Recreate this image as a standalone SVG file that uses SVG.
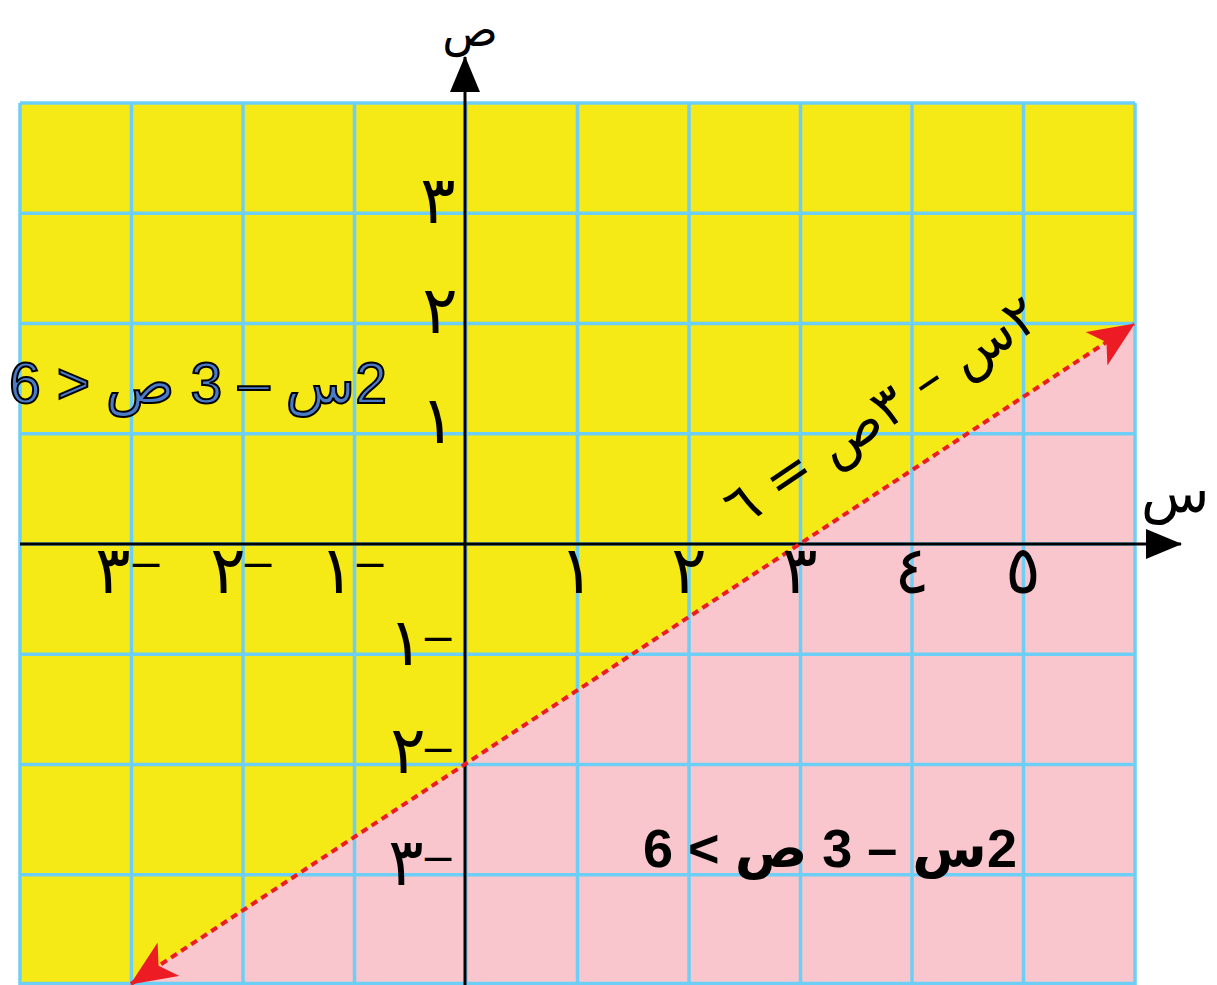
<svg xmlns="http://www.w3.org/2000/svg" width="1217" height="985" viewBox="0 0 1217 985">
<style>
.grid line{stroke:#6DCFF6;stroke-width:3.5}
.ar{font-family:"DejaVu Sans",sans-serif;fill:#000}
.ax{font-family:"DejaVu Sans",sans-serif;font-size:66px;fill:#000;text-anchor:middle}
.ax .d{font-family:"Liberation Sans",sans-serif;font-size:48px}
.axl{stroke:#000;stroke-width:3;fill:none}
</style>
<defs>
<marker id="redhead" viewBox="0 0 46 40" refX="45" refY="20" markerWidth="46" markerHeight="40" markerUnits="userSpaceOnUse" orient="auto-start-reverse">
<path d="M46,20 L0,0 L12,20 L0,40 Z" fill="#ED1C24"/>
</marker>
<marker id="blackhead" viewBox="0 0 36 30" refX="35" refY="15" markerWidth="36" markerHeight="30" markerUnits="userSpaceOnUse" orient="auto">
<path d="M36,15 L0,0 L0,30 Z" fill="#000"/>
</marker>
</defs>
<rect width="1217" height="985" fill="#fff"/>
<g id="regions">
<rect id="yellow-region" x="20" y="103" width="1115" height="882" fill="#F5E916"/>
<polygon id="pink-region" points="130,985 1135,323 1135,985" fill="#F8C6CC"/>
</g>
<g id="grid" class="grid">
<line x1="20" y1="103" x2="20" y2="985"/>
<line x1="131.5" y1="103" x2="131.5" y2="985"/>
<line x1="243" y1="103" x2="243" y2="985"/>
<line x1="354.5" y1="103" x2="354.5" y2="985"/>
<line x1="466" y1="103" x2="466" y2="985"/>
<line x1="577.5" y1="103" x2="577.5" y2="985"/>
<line x1="689" y1="103" x2="689" y2="985"/>
<line x1="800.5" y1="103" x2="800.5" y2="985"/>
<line x1="912" y1="103" x2="912" y2="985"/>
<line x1="1023.5" y1="103" x2="1023.5" y2="985"/>
<line x1="1135" y1="103" x2="1135" y2="985"/>
<line x1="20" y1="103" x2="1135" y2="103"/>
<line x1="20" y1="213.3" x2="1135" y2="213.3"/>
<line x1="20" y1="323.5" x2="1135" y2="323.5"/>
<line x1="20" y1="433.8" x2="1135" y2="433.8"/>
<line x1="20" y1="544" x2="1135" y2="544"/>
<line x1="20" y1="654.3" x2="1135" y2="654.3"/>
<line x1="20" y1="764.5" x2="1135" y2="764.5"/>
<line x1="20" y1="874.8" x2="1135" y2="874.8"/>
<line x1="20" y1="983.5" x2="1135" y2="983.5"/>
</g>
<g id="connectors">
<line id="x-axis" class="axl" x1="20" y1="544" x2="1181" y2="544" marker-end="url(#blackhead)"/>
<line id="y-axis" class="axl" x1="465" y1="985" x2="465" y2="57" marker-end="url(#blackhead)"/>
<line id="boundary-line" x1="131" y1="984" x2="1134" y2="324" stroke="#ED1C24" stroke-width="4" stroke-dasharray="7 5" marker-start="url(#redhead)" marker-end="url(#redhead)"/>
</g>
<g id="axis-names">
<text id="y-name" class="ar" x="470" y="46" font-size="46" text-anchor="middle">ص</text>
<text id="x-name" class="ar" x="1141" y="512" font-size="56">س</text>
</g>
<g id="x-labels">
<text class="ax" x="577" y="593">١</text>
<text class="ax" x="689" y="593">٢</text>
<text class="ax" x="800" y="593">٣</text>
<text class="ax" x="912" y="593">٤</text>
<text class="ax" x="1023" y="593">٥</text>
<text class="ax"><tspan x="113" y="593">٣</tspan><tspan class="d" x="146" y="578">–</tspan></text>
<text class="ax"><tspan x="228" y="593">٢</tspan><tspan class="d" x="258" y="578">–</tspan></text>
<text class="ax"><tspan x="337" y="593">١</tspan><tspan class="d" x="370" y="578">–</tspan></text>
</g>
<g id="y-labels">
<text class="ax" x="438" y="223">٣</text>
<text class="ax" x="440" y="333">٢</text>
<text class="ax" x="438" y="443">١</text>
<text class="ax"><tspan x="406" y="665">١</tspan><tspan class="d" x="438" y="652">–</tspan></text>
<text class="ax"><tspan x="408" y="773">٢</tspan><tspan class="d" x="438" y="763">–</tspan></text>
<text class="ax"><tspan x="406" y="885">٣</tspan><tspan class="d" x="438" y="872">–</tspan></text>
</g>
<g id="equation-label" transform="translate(883,413) rotate(-34)">
<text class="ar" x="0" y="16" font-size="55" text-anchor="middle" direction="rtl">٢س – ٣ص = ٦</text>
</g>
<g id="inequality-yellow">
<text x="198" y="403" font-family="Liberation Sans, DejaVu Sans, sans-serif" font-size="57" fill="#4A7BC8" stroke="#000" stroke-width="2" text-anchor="middle" direction="rtl">2س – 3 ص &lt; 6</text>
</g>
<g id="inequality-pink">
<text x="830" y="867" font-family="Liberation Sans, DejaVu Sans, sans-serif" font-size="54" font-weight="bold" fill="#000" text-anchor="middle" direction="rtl">2س – 3 ص &gt; 6</text>
</g>
</svg>
